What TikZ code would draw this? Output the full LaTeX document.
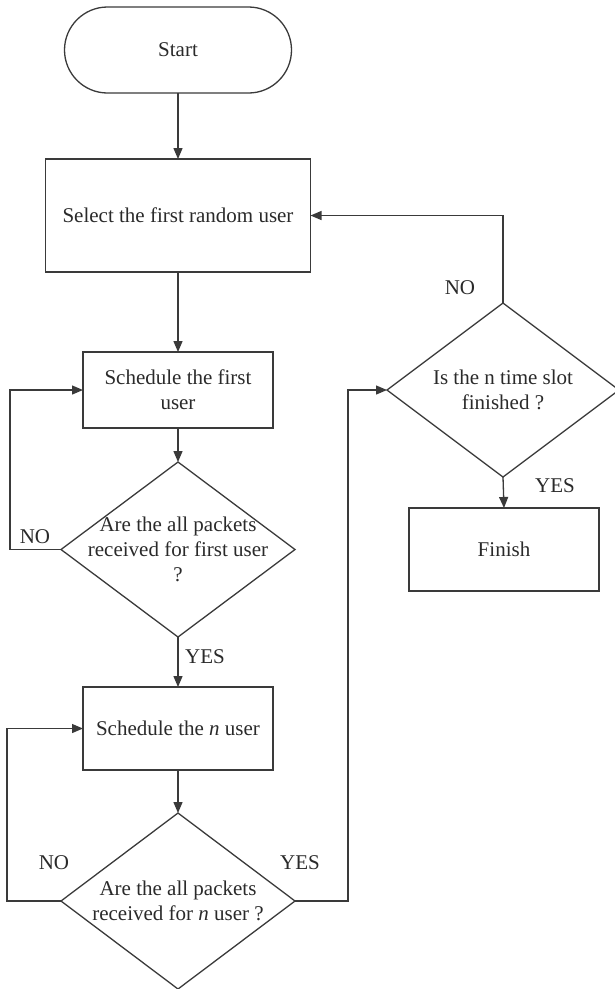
\documentclass[tikz,border=0pt]{standalone}
\usepackage{fontspec}
\setmainfont{Liberation Serif}
\usetikzlibrary{arrows.meta,shapes.geometric}
\definecolor{linegray}{HTML}{3A3A3A}
\definecolor{textgray}{HTML}{2A2A2A}
\begin{document}
\begin{tikzpicture}[x=1pt,y=-1pt,
  line/.style={draw=linegray, line width=1.3pt},
  arr/.style={line, -{Triangle[length=11pt,width=9pt]}},
  box/.style={draw=linegray, line width=1.3pt, rectangle, inner sep=0pt, outer sep=0pt,
    align=center, text=textgray, font=\fontsize{21}{25}\selectfont},
  term/.style={box, rounded corners=43pt},
  decision/.style={draw=linegray, line width=1.3pt, diamond, inner sep=0pt, outer sep=0pt,
    minimum width=234pt, minimum height=175pt},
  txt/.style={align=center, text=textgray, font=\fontsize{21}{25}\selectfont},
  lbl/.style={text=textgray, font=\fontsize{21}{25}\selectfont}
]
\useasboundingbox (0,0) rectangle (615,989);

% main column
\node[term, minimum width=227pt, minimum height=86pt] (start) at (178,50) {Start};
\node[box, minimum width=265pt, minimum height=113pt] (sel) at (178,215.5) {Select the first random user};
\node[box, minimum width=190pt, minimum height=76pt] (s1) at (178,390) {Schedule the first\\user};
\node[decision] (d1) at (178,549.5) {};
\node[txt] (d1t) at (d1.center) {Are the all packets\\received for first user\\?};
\node[box, minimum width=190pt, minimum height=83pt] (s2) at (178,728.5) {Schedule the \textit{n} user};
\node[decision, minimum height=176pt] (d2) at (178,901) {};
\node[txt] (d2t) at (d2.center) {Are the all packets\\received for \textit{n} user ?};

% right column
\node[decision, minimum width=232pt, minimum height=174pt] (d3) at (503,390) {};
\node[txt] (d3t) at (d3.center) {Is the n time slot\\finished ?};
\node[box, minimum width=190pt, minimum height=83pt] (fin) at (504,549.5) {Finish};

% connectors
\draw[arr] (start.south) -- (sel.north);
\draw[arr] (sel.south) -- (s1.north);
\draw[arr] (s1.south) -- (d1.north);
\draw[arr] (d1.west) -- ++(-51,0) |- (s1.west);
\draw[arr] (d1.south) -- (s2.north);
\draw[arr] (s2.south) -- (d2.north);
\draw[arr] (d2.west) -- ++(-54,0) |- (s2.west);
\draw[arr] (d2.east) -- ++(53,0) |- (d3.west);
\draw[arr] (d3.north) |- (sel.east);
\draw[arr] (d3.south) -- (fin.north);

% branch labels
\node[lbl] (no1) at (35,537) {NO};
\node[lbl] (yes1) at (205,657) {YES};
\node[lbl] (no2) at (54,863) {NO};
\node[lbl] (yes2) at (300,863) {YES};
\node[lbl] (no3) at (460,288) {NO};
\node[lbl] (yes3) at (555,486) {YES};
\end{tikzpicture}
\end{document}
